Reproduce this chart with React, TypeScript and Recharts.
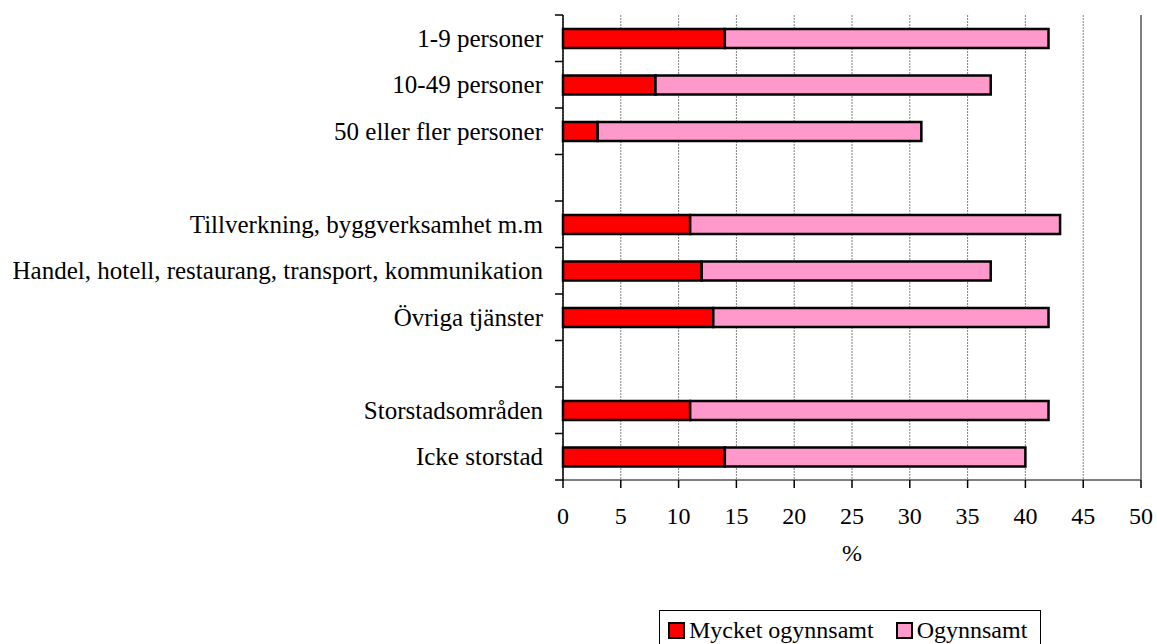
import {
  BarChart,
  Bar,
  XAxis,
  YAxis,
  CartesianGrid,
  ReferenceLine,
} from 'recharts';

const categories = [
  '1-9 personer',
  '10-49 personer',
  '50 eller fler personer',
  '',
  'Tillverkning, byggverksamhet m.m',
  'Handel, hotell, restaurang, transport, kommunikation',
  'Övriga tjänster',
  '',
  'Storstadsområden',
  'Icke storstad',
];
const mycketOgynnsamt = [14, 8, 3, null, 11, 12, 13, null, 11, 14];
const ogynnsamt = [28, 29, 28, null, 32, 25, 29, null, 31, 26];
const xTicks = [0, 5, 10, 15, 20, 25, 30, 35, 40, 45, 50];
const seriesNames = ['Mycket ogynnsamt', 'Ogynnsamt'];

const FONT = '"Liberation Serif", "Times New Roman", serif';
const RED = '#FF0000';
const PINK = '#FF99CC';

const data = categories.map((name, i) => ({
  id: `c${i}`,
  name,
  mycket: mycketOgynnsamt[i],
  ogynnsamt: ogynnsamt[i],
}));

const W = 1157;
const H = 644;
const margin = { top: 15, right: 16, left: 0, bottom: 0 };
const Y_WIDTH = 563;
const X_HEIGHT = 164;
const BAND = (H - margin.top - X_HEIGHT) / categories.length;

// eslint-disable-next-line @typescript-eslint/no-explicit-any
function CategoryTick(props: any) {
  const { x, y, payload, index } = props;
  const label = data.find((d) => d.id === payload.value)?.name ?? '';
  const axisX = x + 8;
  return (
    <g>
      <line x1={axisX - 8} x2={axisX} y1={y - BAND / 2} y2={y - BAND / 2} stroke="#000" strokeWidth={1.5} />
      {index === categories.length - 1 && (
        <line x1={axisX - 8} x2={axisX} y1={y + BAND / 2} y2={y + BAND / 2} stroke="#000" strokeWidth={1.5} />
      )}
      <text x={axisX - 20} y={y} textAnchor="end" dominantBaseline="central" fontFamily={FONT} fontSize={25} fill="#000">
        {label}
      </text>
    </g>
  );
}

// eslint-disable-next-line @typescript-eslint/no-explicit-any
function ValueTick(props: any) {
  const { x, y, payload } = props;
  return (
    <text x={x} y={y + 26} textAnchor="middle" dominantBaseline="central" fontFamily={FONT} fontSize={24} fill="#000">
      {payload.value}
    </text>
  );
}

// eslint-disable-next-line @typescript-eslint/no-explicit-any
function PercentLabel(props: any) {
  const { viewBox } = props;
  return (
    <text
      x={viewBox.x + viewBox.width / 2}
      y={viewBox.y + 73}
      textAnchor="middle"
      dominantBaseline="central"
      fontFamily={FONT}
      fontSize={24}
      fill="#000"
    >
      %
    </text>
  );
}

function LegendBox() {
  const sq = (color: string) => (
    <span
      style={{
        display: 'inline-block',
        width: 13,
        height: 13,
        background: color,
        border: '2px solid #000',
        marginRight: 4,
        verticalAlign: 'middle',
        position: 'relative',
        top: -2,
      }}
    />
  );
  return (
    <div
      style={{
        position: 'absolute',
        left: 659,
        top: 610,
        border: '1px solid #000',
        width: 382,
        height: 42,
        boxSizing: 'border-box',
        padding: '4px 0 0 8px',
        fontFamily: FONT,
        fontSize: 24,
        lineHeight: '30px',
        whiteSpace: 'nowrap',
        background: '#fff',
      }}
    >
      {sq(RED)}
      <span style={{ marginRight: 22 }}>{seriesNames[0]}</span>
      {sq(PINK)}
      <span>{seriesNames[1]}</span>
    </div>
  );
}

export default function App() {
  return (
    <div style={{ position: 'absolute', left: 0, top: 0, width: W, height: H, overflow: 'hidden', fontFamily: FONT }}>
      <BarChart width={W} height={H} data={data} layout="vertical" margin={margin} barCategoryGap={0}>
        <CartesianGrid horizontal={false} stroke="#808080" strokeDasharray="2 1" />
        <XAxis
          type="number"
          domain={[0, 50]}
          ticks={xTicks}
          interval={0}
          height={X_HEIGHT}
          axisLine={{ stroke: '#555', strokeWidth: 1.5 }}
          tickLine={{ stroke: '#000', strokeWidth: 1.5 }}
          tickSize={8}
          tick={<ValueTick />}
          label={<PercentLabel />}
        />
        <XAxis
          xAxisId="top"
          orientation="top"
          type="number"
          domain={[0, 50]}
          height={0}
          tick={false}
          tickLine={false}
          axisLine={{ stroke: '#808080', strokeWidth: 2 }}
        />
        <YAxis
          type="category"
          dataKey="id"
          width={Y_WIDTH}
          interval={0}
          axisLine={{ stroke: '#000', strokeWidth: 1.5 }}
          tickLine={false}
          tickSize={8}
          tickMargin={0}
          tick={<CategoryTick />}
        />
        <ReferenceLine x={50} stroke="#808080" strokeWidth={2} />
        <Bar
          dataKey="mycket"
          name={seriesNames[0]}
          stackId="a"
          fill={RED}
          stroke="#000"
          strokeWidth={2.5}
          barSize={19}
          isAnimationActive={false}
        />
        <Bar
          dataKey="ogynnsamt"
          name={seriesNames[1]}
          stackId="a"
          fill={PINK}
          stroke="#000"
          strokeWidth={2.5}
          barSize={19}
          isAnimationActive={false}
        />
      </BarChart>
      <LegendBox />
    </div>
  );
}
